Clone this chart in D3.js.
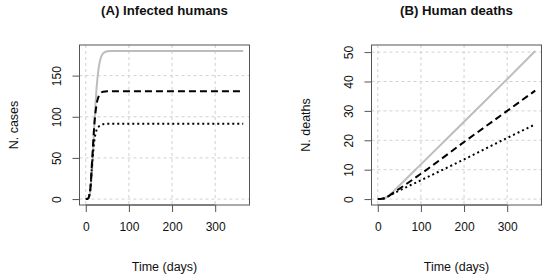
<!DOCTYPE html>
<html>
<head>
<meta charset="utf-8">
<script src="https://cdn.jsdelivr.net/npm/d3@7"></script>
<style>
  body { margin: 0; background: #fff; }
  svg { font-family: "Liberation Sans", Arial, sans-serif; }
  .grid line { stroke: #d0d0d0; stroke-dasharray: 3,3; stroke-width: 1; }
  .axis text { font-size: 12px; fill: #111; }
  .axis line, .axis path { stroke: #555; }
  .title { font-size: 13.2px; font-weight: bold; fill: #111; }
  .label { font-size: 12.5px; fill: #111; }
</style>
</head>
<body>
<div id="chart"></div>
<script>
// (A) infected humans
const daysA = [0, 5, 10, 15, 20, 25, 30, 35, 40, 50, 60, 80, 365];
const casesGray   = [0, 1, 8, 40, 92, 135, 160, 172, 177, 179.5, 180, 180, 180];
const casesDashed = [0, 0.5, 10, 50, 92, 115, 125, 129, 130.5, 131, 131, 131, 131];
const casesDotted = [0, 0.5, 10, 45, 72, 84, 88, 90, 91, 91.5, 91.5, 91.5, 91.5];

// (B) human deaths
const daysB = [0, 10, 20, 30, 50, 100, 200, 300, 365];
const deathsGray   = [0, 0.1, 0.6, 1.8, 4.6, 11.8, 26.3, 40.8, 50.4];
const deathsDashed = [0, 0.1, 0.5, 1.5, 3.5, 8.6, 19.4, 30.0, 36.9];
const deathsDotted = [0, 0.1, 0.6, 1.4, 2.9, 6.4, 13.5, 20.8, 25.4];

const xTicks = [0, 100, 200, 300];
const yTicksA = [0, 50, 100, 150];
const yTicksB = [0, 10, 20, 30, 40, 50];

const width = 550, height = 280;
const boxTop = 45, boxBottom = 205;

const styles = [
  { stroke: "#bdbdbd", dash: null },
  { stroke: "#000", dash: "7,4" },
  { stroke: "#000", dash: "2,3" }
];

const svg = d3.select("#chart").append("svg")
  .attr("width", width)
  .attr("height", height);

// R style 4% range extension
function padded(lo, hi) {
  const p = (hi - lo) * 0.04;
  return [lo - p, hi + p];
}

function drawPanel(opts) {
  const g = svg.append("g");
  const allY = d3.merge(opts.series);

  const x = d3.scaleLinear()
    .domain(padded(0, d3.max(opts.days)))
    .range([opts.left, opts.right]);
  const y = d3.scaleLinear()
    .domain(padded(0, d3.max(allY)))
    .range([boxBottom, boxTop]);

  // grid
  const grid = g.append("g").attr("class", "grid");
  grid.selectAll(".gx").data(opts.xTicks).enter()
    .append("line")
      .attr("x1", x).attr("x2", x)
      .attr("y1", boxTop).attr("y2", boxBottom);
  grid.selectAll(".gy").data(opts.yTicks).enter()
    .append("line")
      .attr("x1", opts.left).attr("x2", opts.right)
      .attr("y1", y).attr("y2", y);

  // lines
  const line = d3.line()
    .x((d) => x(d[0]))
    .y((d) => y(d[1]))
    .curve(d3.curveMonotoneX);

  opts.series.forEach((s, i) => {
    g.append("path")
      .datum(opts.days.map((d, j) => [d, s[j]]))
      .attr("fill", "none")
      .attr("stroke", styles[i].stroke)
      .attr("stroke-width", 2)
      .attr("stroke-dasharray", styles[i].dash)
      .attr("d", line);
  });

  // box
  g.append("rect")
    .attr("x", opts.left).attr("y", boxTop)
    .attr("width", opts.right - opts.left)
    .attr("height", boxBottom - boxTop)
    .attr("fill", "none")
    .attr("stroke", "#555");

  // axes
  const xAxis = d3.axisBottom(x).tickValues(opts.xTicks).tickSize(7).tickPadding(10);
  const xg = g.append("g")
    .attr("class", "axis")
    .attr("transform", `translate(0,${boxBottom})`)
    .call(xAxis);
  xg.select(".domain").remove();
  xg.append("line")
    .attr("x1", x(opts.xTicks[0])).attr("x2", x(opts.xTicks[opts.xTicks.length - 1]))
    .attr("stroke", "#555");

  const yAxis = d3.axisLeft(y).tickValues(opts.yTicks).tickSize(7);
  const yg = g.append("g")
    .attr("class", "axis")
    .attr("transform", `translate(${opts.left},0)`)
    .call(yAxis);
  yg.select(".domain").remove();
  yg.append("line")
    .attr("y1", y(opts.yTicks[0])).attr("y2", y(opts.yTicks[opts.yTicks.length - 1]))
    .attr("stroke", "#555");
  yg.selectAll(".tick text")
    .attr("x", null).attr("dy", null)
    .attr("text-anchor", "middle")
    .attr("transform", "translate(-23,0)rotate(-90)")
    .attr("dy", "0.35em");

  const cx = (opts.left + opts.right) / 2;

  g.append("text")
    .attr("class", "title")
    .attr("x", cx).attr("y", 15)
    .attr("text-anchor", "middle")
    .text(opts.title);

  g.append("text")
    .attr("class", "label")
    .attr("x", cx).attr("y", 271)
    .attr("text-anchor", "middle")
    .text("Time (days)");

  g.append("text")
    .attr("class", "label")
    .attr("text-anchor", "middle")
    .attr("dy", "0.35em")
    .attr("transform", `translate(${opts.left - 66},${(boxTop + boxBottom) / 2})rotate(-90)`)
    .text(opts.yLabel);
}

drawPanel({
  title: "(A) Infected humans",
  yLabel: "N. cases",
  left: 79.5, right: 249.5,
  days: daysA,
  series: [casesGray, casesDashed, casesDotted],
  xTicks: xTicks,
  yTicks: yTicksA
});

drawPanel({
  title: "(B) Human deaths",
  yLabel: "N. deaths",
  left: 371.5, right: 541.5,
  days: daysB,
  series: [deathsGray, deathsDashed, deathsDotted],
  xTicks: xTicks,
  yTicks: yTicksB
});
</script>
</body>
</html>
